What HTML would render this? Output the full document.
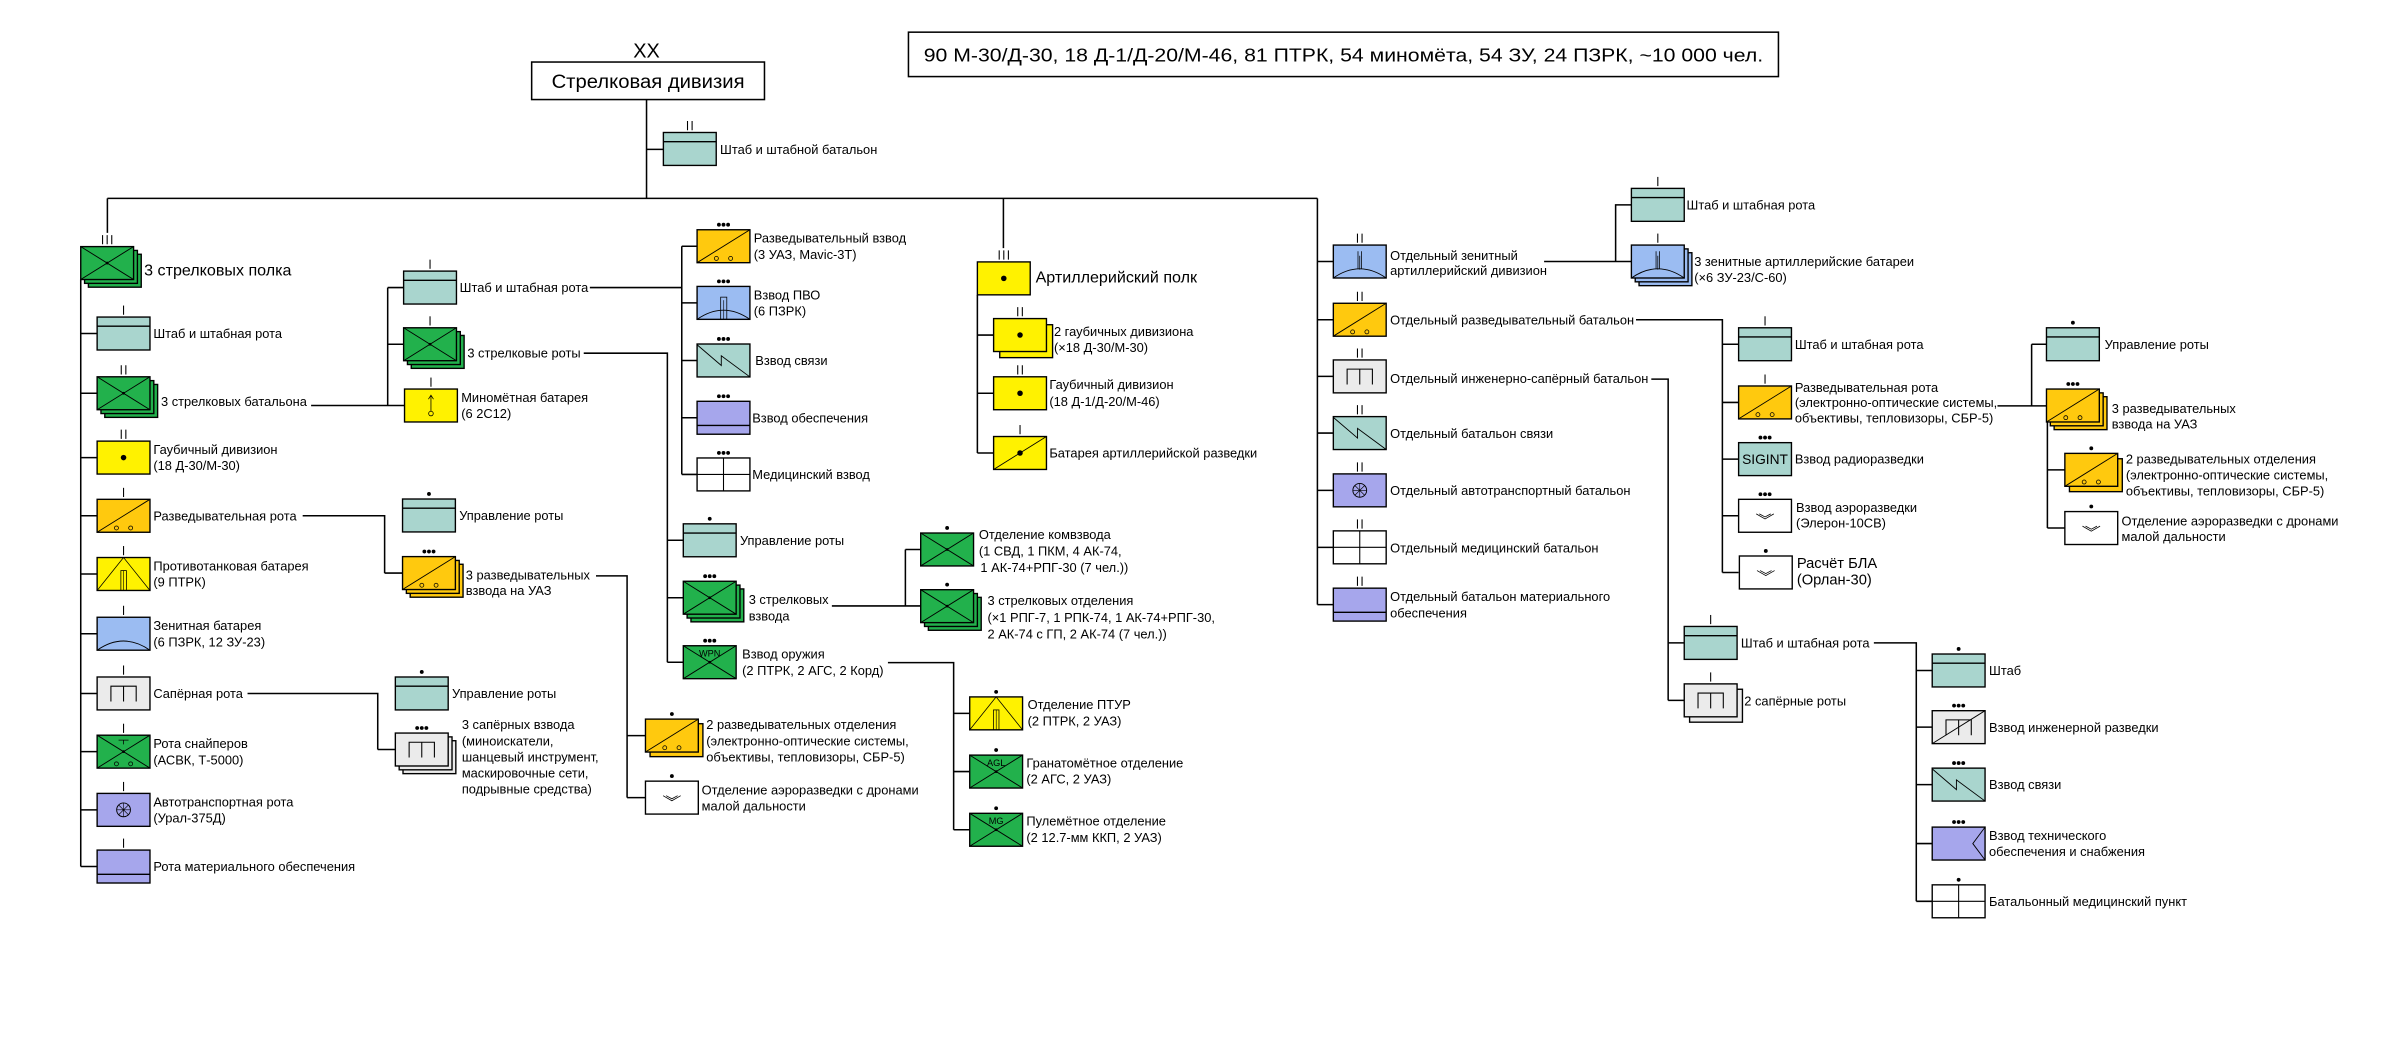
<!DOCTYPE html>
<html><head><meta charset="utf-8"><style>
html,body{margin:0;padding:0;background:#fff;}
svg{display:block;}
text{font-family:"Liberation Sans",Arial,sans-serif;font-size:8.4px;fill:#000;}
</style></head><body>
<svg width="2402" height="1040" viewBox="0 0 1568 679" xmlns="http://www.w3.org/2000/svg">
<defs>
<g id="hq"><rect width="34.5" height="21.5" fill="#a9d5ce" stroke="#000" stroke-width="0.9"/><line x1="0" y1="6" x2="34.5" y2="6" stroke="#000" stroke-width="0.9"/></g>
<g id="inf"><rect width="34.5" height="21.5" fill="#22b14c" stroke="#000" stroke-width="0.9"/><path d="M0,0L34.5,21.5M34.5,0L0,21.5" stroke="#000" stroke-width="0.6" fill="none"/><circle cx="17.25" cy="10.75" r="0.9"/></g>
<g id="rec"><rect width="34.5" height="21.5" fill="#ffc90e" stroke="#000" stroke-width="0.9"/><path d="M0,21.5L34.5,0" stroke="#000" stroke-width="0.6"/><circle cx="12.6" cy="18.7" r="1.3" fill="none" stroke="#000" stroke-width="0.5"/><circle cx="21.9" cy="18.7" r="1.3" fill="none" stroke="#000" stroke-width="0.5"/></g>
<g id="art"><rect width="34.5" height="21.5" fill="#fff200" stroke="#000" stroke-width="0.9"/><circle cx="17.25" cy="10.75" r="1.8"/></g>
<g id="artrec"><use href="#art"/><path d="M0,21.5L34.5,0" stroke="#000" stroke-width="0.6"/></g>
<g id="mor"><rect width="34.5" height="21.5" fill="#fff200" stroke="#000" stroke-width="0.9"/><path d="M17.25,4V14.5M15.6,6.6L17.25,4L18.9,6.6" stroke="#000" stroke-width="0.5" fill="none"/><circle cx="17.25" cy="16" r="1.5" fill="none" stroke="#000" stroke-width="0.5"/></g>
<g id="at"><rect width="34.5" height="21.5" fill="#fff200" stroke="#000" stroke-width="0.9"/><path d="M0,21.5L17.25,0L34.5,21.5" stroke="#000" stroke-width="0.5" fill="none"/><rect x="15.5" y="8.5" width="3.6" height="13" fill="none" stroke="#000" stroke-width="0.5"/><line x1="17.3" y1="8.5" x2="17.3" y2="21.5" stroke="#000" stroke-width="0.4"/></g>
<g id="ad"><rect width="34.5" height="21.5" fill="#9bbcf2" stroke="#000" stroke-width="0.9"/><path d="M0,21.5Q17.25,9.5 34.5,21.5" stroke="#000" stroke-width="0.6" fill="none"/></g>
<g id="adpl"><use href="#ad"/><rect x="15.4" y="7" width="4" height="14.5" fill="none" stroke="#000" stroke-width="0.5"/><line x1="17.4" y1="9" x2="17.4" y2="21.5" stroke="#000" stroke-width="0.4"/></g>
<g id="zen"><use href="#ad"/><path d="M16.1,4V15.5M18.4,4V15.5M17.25,7V16" stroke="#000" stroke-width="0.5"/></g>
<g id="eng"><rect width="34.5" height="21.5" fill="#ebebeb" stroke="#000" stroke-width="0.9"/><path d="M9,16V6H25.5V16M17.25,6V16" stroke="#000" stroke-width="0.7" fill="none"/></g>
<g id="engrec"><use href="#eng"/><path d="M0,21.5L34.5,0" stroke="#000" stroke-width="0.6"/></g>
<g id="sig"><rect width="34.5" height="21.5" fill="#a9d5ce" stroke="#000" stroke-width="0.9"/><polyline points="0,0.5 15.8,14 15.8,7.7 34.5,21.5" stroke="#000" stroke-width="0.6" fill="none"/></g>
<g id="sup"><rect width="34.5" height="21.5" fill="#a6a6ec" stroke="#000" stroke-width="0.9"/><line x1="0" y1="15.8" x2="34.5" y2="15.8" stroke="#000" stroke-width="0.9"/></g>
<g id="trn"><rect width="34.5" height="21.5" fill="#a6a6ec" stroke="#000" stroke-width="0.9"/><circle cx="17.25" cy="10.75" r="4.5" fill="none" stroke="#000" stroke-width="0.6"/><path d="M12.75,10.75H21.75M17.25,6.25V15.25M14.07,7.57L20.43,13.93M20.43,7.57L14.07,13.93" stroke="#000" stroke-width="0.4"/></g>
<g id="med"><rect width="34.5" height="21.5" fill="#fff" stroke="#000" stroke-width="0.9"/><path d="M17.25,0V21.5M0,10.75H34.5" stroke="#000" stroke-width="0.7"/></g>
<g id="drone"><rect width="34.5" height="21.5" fill="#fff" stroke="#000" stroke-width="0.9"/><path d="M11.5,9.5L17.25,12.8L23,9.5M13.5,9.5L17.25,11.5L21,9.5" stroke="#000" stroke-width="0.5" fill="none"/></g>
<g id="tech"><rect width="34.5" height="21.5" fill="#a6a6ec" stroke="#000" stroke-width="0.9"/><polyline points="34.5,0 26.5,10.75 34.5,21.5" stroke="#000" stroke-width="0.6" fill="none"/></g>
<g id="snp"><use href="#inf"/><path d="M14,3.2H20.5M17.25,3.2V6" stroke="#000" stroke-width="0.5"/><circle cx="12.6" cy="18.7" r="1.3" fill="none" stroke="#000" stroke-width="0.5"/><circle cx="21.9" cy="18.7" r="1.3" fill="none" stroke="#000" stroke-width="0.5"/></g>
<g id="m1"><path d="M0,-7.5V-1.5" stroke="#000" stroke-width="0.7"/></g>
<g id="m2"><path d="M-1.5,-7.5V-1.5M1.5,-7.5V-1.5" stroke="#000" stroke-width="0.7"/></g>
<g id="m3"><path d="M-3,-7.5V-1.5M0,-7.5V-1.5M3,-7.5V-1.5" stroke="#000" stroke-width="0.7"/></g>
<g id="d1"><circle cx="0" cy="-3.3" r="1.25"/></g>
<g id="d3"><circle cx="-3" cy="-3.3" r="1.25"/><circle cx="0" cy="-3.3" r="1.25"/><circle cx="3" cy="-3.3" r="1.25"/></g>
</defs>

<g stroke="#000" stroke-width="1" fill="none">
<path d="M422,65V129.5M422,97.5H433M70,129.5H860M70,129.5V152"/>
<path d="M52.6,182.5V565.75M52.6,217.75H63.3M52.6,256.75H63.3M52.6,298.75H63.3M52.6,336.75H63.3M52.6,374.75H63.3M52.6,413.75H63.3M52.6,452.75H63.3M52.6,490.75H63.3M52.6,528.75H63.3M52.6,565.75H63.3"/>
<path d="M203,264.75H253M253,187.75V264.75M253,187.75H263.4M253,224.75H263.4M253,264.75H264"/>
<path d="M385,187.75H445M445,160.75V309.75M445,160.75H455M445,197.75H455M445,235.35H455M445,272.75H455M445,309.75H455"/>
<path d="M381,230.6H435.6V432.35M435.6,352.75H446M435.6,390.25H446M435.6,432.35H446"/>
<path d="M543,395.6H591M591,358.75V395.6M591,358.75H601M591,395.6H601"/>
<path d="M579.6,432.6H622.5V541.75M622.5,465.75H633M622.5,503.75H633M622.5,541.75H633"/>
<path d="M197.5,336.75H251V374.15M251,374.15H262.7"/>
<path d="M389,376H409.3V520.75M409.3,480.25H421.3M409.3,520.75H421.3"/>
<path d="M161.5,452.75H246.5V489.35M246.5,489.35H258"/>
<path d="M655,129.5V162M638,192.5V295.75M638,218.75H648.6M638,256.75H648.6M638,295.75H648.6"/>
<path d="M860,129.5V394.75M860,170.75H870.4M860,208.75H870.4M860,245.75H870.4M860,282.75H870.4M860,320.15H870.4M860,357.35H870.4M860,394.75H870.4"/>
<path d="M1008,170.75H1054.7V133.75H1065M1054.7,170.75H1065"/>
<path d="M1068,208.75H1124.4V373.75M1124.4,224.75H1135M1124.4,262.75H1135M1124.4,299.75H1135M1124.4,336.75H1135M1124.4,373.75H1135"/>
<path d="M1304,265H1326.3M1326.3,224.75V265M1326.3,224.75H1336M1326.3,265H1336M1336.6,275.5V344.75M1336.6,306.75H1348M1336.6,344.75H1348"/>
<path d="M1078,247.5H1089V457.25M1089,419.75H1099.5M1089,457.25H1099.5"/>
<path d="M1223.3,419.75H1251V588.45M1251,437.75H1261.4M1251,474.75H1261.4M1251,512.25H1261.4M1251,550.75H1261.4M1251,588.45H1261.4"/>
</g>

<text x="422" y="37.5" text-anchor="middle" style="font-size:13px">XX</text>
<rect x="347" y="40.5" width="152" height="24.5" fill="#fff" stroke="#000" stroke-width="1"/>
<text x="423" y="57.5" text-anchor="middle" style="font-size:12.5px" textLength="126" lengthAdjust="spacingAndGlyphs">Стрелковая дивизия</text>
<rect x="593" y="21" width="568" height="29" fill="#fff" stroke="#000" stroke-width="1"/>
<text x="877" y="40" text-anchor="middle" style="font-size:12px" textLength="548" lengthAdjust="spacingAndGlyphs">90 М-30/Д-30, 18 Д-1/Д-20/М-46, 81 ПТРК, 54 миномёта, 54 ЗУ, 24 ПЗРК, ~10 000 чел.</text>

<use href="#hq" x="433" y="86.5"/><use href="#m2" x="450.25" y="86.5"/>
<text x="470" y="100.5">Штаб и штабной батальон</text>

<rect x="57.6" y="166" width="34.5" height="21.5" fill="#22b14c" stroke="#000" stroke-width="0.9"/>
<rect x="55.1" y="163.5" width="34.5" height="21.5" fill="#22b14c" stroke="#000" stroke-width="0.9"/>
<use href="#inf" x="52.6" y="161"/><use href="#m3" x="69.85" y="161"/>
<text x="94" y="180" style="font-size:10.5px">3 стрелковых полка</text>

<use href="#hq" x="63.3" y="207"/><use href="#m1" x="80.55" y="207"/>
<text x="100" y="220.75">Штаб и штабная рота</text>
<rect x="68.3" y="251" width="34.5" height="21.5" fill="#22b14c" stroke="#000" stroke-width="0.9"/>
<rect x="65.8" y="248.5" width="34.5" height="21.5" fill="#22b14c" stroke="#000" stroke-width="0.9"/>
<use href="#inf" x="63.3" y="246"/><use href="#m2" x="80.55" y="246"/>
<text x="105" y="265">3 стрелковых батальона</text>
<use href="#art" x="63.3" y="288"/><use href="#m2" x="80.55" y="288"/>
<text x="100" y="296.4">Гаубичный дивизион</text><text x="100" y="307">(18 Д-30/М-30)</text>
<use href="#rec" x="63.3" y="326"/><use href="#m1" x="80.55" y="326"/>
<text x="100" y="339.75">Разведывательная рота</text>
<use href="#at" x="63.3" y="364"/><use href="#m1" x="80.55" y="364"/>
<text x="100" y="372.4">Противотанковая батарея</text><text x="100" y="383">(9 ПТРК)</text>
<use href="#ad" x="63.3" y="403"/><use href="#m1" x="80.55" y="403"/>
<text x="100" y="411.4">Зенитная батарея</text><text x="100" y="422">(6 ПЗРК, 12 ЗУ-23)</text>
<use href="#eng" x="63.3" y="442"/><use href="#m1" x="80.55" y="442"/>
<text x="100" y="455.75">Сапёрная рота</text>
<use href="#snp" x="63.3" y="480"/><use href="#m1" x="80.55" y="480"/>
<text x="100" y="488.4">Рота снайперов</text><text x="100" y="499">(АСВК, Т-5000)</text>
<use href="#trn" x="63.3" y="518"/><use href="#m1" x="80.55" y="518"/>
<text x="100" y="526.4">Автотранспортная рота</text><text x="100" y="537">(Урал-375Д)</text>
<use href="#sup" x="63.3" y="555"/><use href="#m1" x="80.55" y="555"/>
<text x="100" y="568.75">Рота материального обеспечения</text>

<use href="#hq" x="263.4" y="177"/><use href="#m1" x="280.65" y="177"/>
<text x="300" y="190.75">Штаб и штабная рота</text>
<rect x="268.4" y="219" width="34.5" height="21.5" fill="#22b14c" stroke="#000" stroke-width="0.9"/>
<rect x="265.9" y="216.5" width="34.5" height="21.5" fill="#22b14c" stroke="#000" stroke-width="0.9"/>
<use href="#inf" x="263.4" y="214"/><use href="#m1" x="280.65" y="214"/>
<text x="305" y="233.3">3 стрелковые роты</text>
<use href="#mor" x="264" y="254"/><use href="#m1" x="281.25" y="254"/>
<text x="301" y="262.4">Миномётная батарея</text><text x="301" y="273">(6 2С12)</text>

<use href="#rec" x="455" y="150"/><use href="#d3" x="472.25" y="150"/>
<text x="492" y="158.4">Разведывательный взвод</text><text x="492" y="169">(3 УАЗ, Mavic-3T)</text>
<use href="#adpl" x="455" y="187"/><use href="#d3" x="472.25" y="187"/>
<text x="492" y="195.4">Взвод ПВО</text><text x="492" y="206">(6 ПЗРК)</text>
<use href="#sig" x="455" y="224.6"/><use href="#d3" x="472.25" y="224.6"/>
<text x="493" y="238.35">Взвод связи</text>
<use href="#sup" x="455" y="262"/><use href="#d3" x="472.25" y="262"/>
<text x="491" y="275.75">Взвод обеспечения</text>
<use href="#med" x="455" y="299"/><use href="#d3" x="472.25" y="299"/>
<text x="491" y="312.75">Медицинский взвод</text>

<use href="#hq" x="446" y="342"/><use href="#d1" x="463.25" y="342"/>
<text x="483" y="355.75">Управление роты</text>
<rect x="451" y="384.5" width="34.5" height="21.5" fill="#22b14c" stroke="#000" stroke-width="0.9"/>
<rect x="448.5" y="382" width="34.5" height="21.5" fill="#22b14c" stroke="#000" stroke-width="0.9"/>
<use href="#inf" x="446" y="379.5"/><use href="#d3" x="463.25" y="379.5"/>
<text x="488.7" y="394.2">3 стрелковых</text><text x="488.7" y="405">взвода</text>
<use href="#inf" x="446" y="421.6"/><use href="#d3" x="463.25" y="421.6"/>
<text x="463.25" y="428.5" text-anchor="middle" style="font-size:6px">WPN</text>
<text x="484.4" y="430">Взвод оружия</text><text x="484.4" y="440.8">(2 ПТРК, 2 АГС, 2 Корд)</text>

<use href="#inf" x="601" y="348"/><use href="#d1" x="618.25" y="348"/>
<text x="639" y="352">Отделение комвзвода</text><text x="639" y="362.7">(1 СВД, 1 ПКМ, 4 АК-74,</text><text x="640" y="373.6">1 АК-74+РПГ-30 (7 чел.))</text>
<rect x="606" y="390" width="34.5" height="21.5" fill="#22b14c" stroke="#000" stroke-width="0.9"/>
<rect x="603.5" y="387.5" width="34.5" height="21.5" fill="#22b14c" stroke="#000" stroke-width="0.9"/>
<use href="#inf" x="601" y="385"/><use href="#d1" x="618.25" y="385"/>
<text x="644.6" y="395">3 стрелковых отделения</text><text x="644.6" y="406">(×1 РПГ-7, 1 РПК-74, 1 АК-74+РПГ-30,</text><text x="644.6" y="417">2 АК-74 с ГП, 2 АК-74 (7 чел.))</text>

<use href="#at" x="633" y="455"/><use href="#d1" x="650.25" y="455"/>
<text x="670.8" y="463">Отделение ПТУР</text><text x="670.8" y="473.6">(2 ПТРК, 2 УАЗ)</text>
<use href="#inf" x="633" y="493"/><use href="#d1" x="650.25" y="493"/>
<text x="650.25" y="500" text-anchor="middle" style="font-size:6px">AGL</text>
<text x="670" y="501">Гранатомётное отделение</text><text x="670" y="511.6">(2 АГС, 2 УАЗ)</text>
<use href="#inf" x="633" y="531"/><use href="#d1" x="650.25" y="531"/>
<text x="650.25" y="538" text-anchor="middle" style="font-size:6px">MG</text>
<text x="670" y="539">Пулемётное отделение</text><text x="670" y="549.6">(2 12.7-мм ККП, 2 УАЗ)</text>

<use href="#hq" x="262.7" y="325.8"/><use href="#d1" x="279.95" y="325.8"/>
<text x="299.7" y="339.6">Управление роты</text>
<rect x="267.7" y="368.4" width="34.5" height="21.5" fill="#ffc90e" stroke="#000" stroke-width="0.9"/>
<rect x="265.2" y="365.9" width="34.5" height="21.5" fill="#ffc90e" stroke="#000" stroke-width="0.9"/>
<use href="#rec" x="262.7" y="363.4"/><use href="#d3" x="279.95" y="363.4"/>
<text x="304" y="378.3">3 разведывательных</text><text x="304" y="388.6">взвода на УАЗ</text>
<rect x="424.3" y="472.5" width="34.5" height="21.5" fill="#ffc90e" stroke="#000" stroke-width="0.9"/>
<use href="#rec" x="421.3" y="469.5"/><use href="#d1" x="438.55" y="469.5"/>
<text x="461" y="476">2 разведывательных отделения</text><text x="461" y="486.7">(электронно-оптические системы,</text><text x="461" y="497.3">объективы, тепловизоры, СБР-5)</text>
<use href="#drone" x="421.3" y="510"/><use href="#d1" x="438.55" y="510"/>
<text x="458" y="518.7">Отделение аэроразведки с дронами</text><text x="458" y="529.2">малой дальности</text>

<use href="#hq" x="258" y="442"/><use href="#d1" x="275.25" y="442"/>
<text x="295" y="455.75">Управление роты</text>
<rect x="263" y="483.6" width="34.5" height="21.5" fill="#ebebeb" stroke="#000" stroke-width="0.9"/>
<rect x="260.5" y="481.1" width="34.5" height="21.5" fill="#ebebeb" stroke="#000" stroke-width="0.9"/>
<use href="#eng" x="258" y="478.6"/><use href="#d3" x="275.25" y="478.6"/>
<text x="301.4" y="476">3 сапёрных взвода</text><text x="301.4" y="486.6">(миноискатели,</text><text x="301.4" y="497.1">шанцевый инструмент,</text><text x="301.4" y="507.6">маскировочные сети,</text><text x="301.4" y="518">подрывные средства)</text>

<use href="#art" x="638" y="171"/><use href="#m3" x="655.25" y="171"/>
<text x="676" y="184.5" style="font-size:10.5px">Артиллерийский полк</text>
<rect x="652.6" y="212" width="34.5" height="21.5" fill="#fff200" stroke="#000" stroke-width="0.9"/>
<use href="#art" x="648.6" y="208"/><use href="#m2" x="665.85" y="208"/>
<text x="688" y="219.5">2 гаубичных дивизиона</text><text x="688" y="229.7">(×18 Д-30/М-30)</text>
<use href="#art" x="648.6" y="246"/><use href="#m2" x="665.85" y="246"/>
<text x="685" y="254">Гаубичный дивизион</text><text x="685" y="265">(18 Д-1/Д-20/М-46)</text>
<use href="#artrec" x="648.6" y="285"/><use href="#m1" x="665.85" y="285"/>
<text x="685" y="298.7">Батарея артиллерийской разведки</text>

<use href="#zen" x="870.4" y="160"/><use href="#m2" x="887.65" y="160"/>
<text x="907.5" y="169.8">Отдельный зенитный</text><text x="907.5" y="179.7">артиллерийский дивизион</text>
<use href="#rec" x="870.4" y="198"/><use href="#m2" x="887.65" y="198"/>
<text x="907.5" y="212">Отдельный разведывательный батальон</text>
<use href="#eng" x="870.4" y="235"/><use href="#m2" x="887.65" y="235"/>
<text x="907.5" y="250">Отдельный инженерно-сапёрный батальон</text>
<use href="#sig" x="870.4" y="272"/><use href="#m2" x="887.65" y="272"/>
<text x="907.5" y="286">Отдельный батальон связи</text>
<use href="#trn" x="870.4" y="309.4"/><use href="#m2" x="887.65" y="309.4"/>
<text x="907.5" y="323.2">Отдельный автотранспортный батальон</text>
<use href="#med" x="870.4" y="346.6"/><use href="#m2" x="887.65" y="346.6"/>
<text x="907.5" y="360.6">Отдельный медицинский батальон</text>
<use href="#sup" x="870.4" y="384"/><use href="#m2" x="887.65" y="384"/>
<text x="907.5" y="392.4">Отдельный батальон материального</text><text x="907.5" y="403">обеспечения</text>

<use href="#hq" x="1065" y="123"/><use href="#m1" x="1082.25" y="123"/>
<text x="1101" y="136.75">Штаб и штабная рота</text>
<rect x="1070" y="165" width="34.5" height="21.5" fill="#9bbcf2" stroke="#000" stroke-width="0.9"/>
<rect x="1067.5" y="162.5" width="34.5" height="21.5" fill="#9bbcf2" stroke="#000" stroke-width="0.9"/>
<use href="#zen" x="1065" y="160"/><use href="#m1" x="1082.25" y="160"/>
<text x="1106" y="173.8">3 зенитные артиллерийские батареи</text><text x="1106" y="184">(×6 ЗУ-23/С-60)</text>

<use href="#hq" x="1135" y="214"/><use href="#m1" x="1152.25" y="214"/>
<text x="1171.7" y="227.75">Штаб и штабная рота</text>
<use href="#rec" x="1135" y="252"/><use href="#m1" x="1152.25" y="252"/>
<text x="1171.7" y="256">Разведывательная рота</text><text x="1171.7" y="265.6">(электронно-оптические системы,</text><text x="1171.7" y="276">объективы, тепловизоры, СБР-5)</text>
<rect x="1135" y="289" width="34.5" height="21.5" fill="#a9d5ce" stroke="#000" stroke-width="0.9"/><use href="#d3" x="1152.25" y="289"/>
<text x="1152.25" y="302.8" text-anchor="middle" style="font-size:9px">SIGINT</text>
<text x="1171.7" y="302.75">Взвод радиоразведки</text>
<use href="#drone" x="1135" y="326"/><use href="#d3" x="1152.25" y="326"/>
<text x="1172.5" y="334.4">Взвод аэроразведки</text><text x="1172.5" y="344.5">(Элерон-10СВ)</text>
<use href="#drone" x="1135.5" y="363"/><use href="#d1" x="1152.75" y="363"/>
<text x="1173" y="371" style="font-size:9.6px">Расчёт БЛА</text><text x="1173" y="381.5" style="font-size:9.6px">(Орлан-30)</text>

<use href="#hq" x="1336" y="214"/><use href="#d1" x="1353.25" y="214"/>
<text x="1374" y="227.75">Управление роты</text>
<rect x="1341" y="259" width="34.5" height="21.5" fill="#ffc90e" stroke="#000" stroke-width="0.9"/>
<rect x="1338.5" y="256.5" width="34.5" height="21.5" fill="#ffc90e" stroke="#000" stroke-width="0.9"/>
<use href="#rec" x="1336" y="254"/><use href="#d3" x="1353.25" y="254"/>
<text x="1378.6" y="269.5">3 разведывательных</text><text x="1378.6" y="279.8">взвода на УАЗ</text>
<rect x="1351" y="299.5" width="34.5" height="21.5" fill="#ffc90e" stroke="#000" stroke-width="0.9"/>
<use href="#rec" x="1348" y="296"/><use href="#d1" x="1365.25" y="296"/>
<text x="1387.8" y="302.6">2 разведывательных отделения</text><text x="1387.8" y="313">(электронно-оптические системы,</text><text x="1387.8" y="323.6">объективы, тепловизоры, СБР-5)</text>
<use href="#drone" x="1348" y="334"/><use href="#d1" x="1365.25" y="334"/>
<text x="1385" y="343">Отделение аэроразведки с дронами</text><text x="1385" y="353.3">малой дальности</text>

<use href="#hq" x="1099.5" y="409"/><use href="#m1" x="1116.75" y="409"/>
<text x="1136.5" y="422.75">Штаб и штабная рота</text>
<rect x="1103" y="450" width="34.5" height="21.5" fill="#ebebeb" stroke="#000" stroke-width="0.9"/>
<use href="#eng" x="1099.5" y="446.5"/><use href="#m1" x="1116.75" y="446.5"/>
<text x="1138.7" y="460.5">2 сапёрные роты</text>

<use href="#hq" x="1261.4" y="427"/><use href="#d1" x="1278.65" y="427"/>
<text x="1298.5" y="440.75">Штаб</text>
<use href="#engrec" x="1261.4" y="464"/><use href="#d3" x="1278.65" y="464"/>
<text x="1298.5" y="477.75">Взвод инженерной разведки</text>
<use href="#sig" x="1261.4" y="501.5"/><use href="#d3" x="1278.65" y="501.5"/>
<text x="1298.5" y="515.25">Взвод связи</text>
<use href="#tech" x="1261.4" y="540"/><use href="#d3" x="1278.65" y="540"/>
<text x="1298.5" y="548.5">Взвод технического</text><text x="1298.5" y="559">обеспечения и снабжения</text>
<use href="#med" x="1261.4" y="577.7"/><use href="#d1" x="1278.65" y="577.7"/>
<text x="1298.5" y="591.45">Батальонный медицинский пункт</text>
</svg>
</body></html>
